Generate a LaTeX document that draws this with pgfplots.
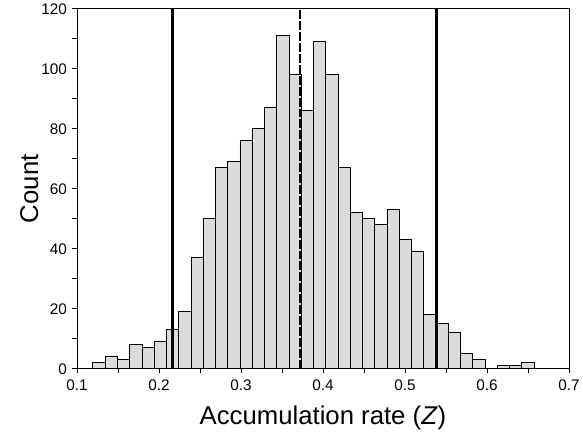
\documentclass[border=0pt]{standalone}
\usepackage{pgfplots}
\pgfplotsset{compat=1.18}
\usetikzlibrary{calc}
\usepackage{fontspec}
\setmainfont{Liberation Sans}

% bin left edges and counts (last row closes the final bin)
\pgfplotstableread{
x       n
0.1193  2
0.13424 4
0.14918 3
0.16412 8
0.17906 7
0.19400 9
0.20894 13
0.22388 19
0.23882 37
0.25376 50
0.26870 67
0.28364 69
0.29858 76
0.31352 80
0.32846 87
0.34340 111
0.35834 98
0.37328 86
0.38822 109
0.40316 98
0.41810 67
0.43304 52
0.44798 50
0.46292 48
0.47786 53
0.49280 43
0.50774 39
0.52268 18
0.53762 15
0.55256 12
0.56750 5
0.58244 3
0.59738 0
0.61232 1
0.62726 1
0.64220 2
0.65714 0
}\hist

\begin{document}
\begin{tikzpicture}
\begin{axis}[
  scale only axis,
  width=495.5bp, height=362.5bp,
  xmin=0.1, xmax=0.7,
  ymin=0, ymax=120,
  xtick={0.1,0.2,0.3,0.4,0.5,0.6,0.7},
  minor xtick={0.15,0.25,0.35,0.45,0.55,0.65},
  ytick={0,20,40,60,80,100,120},
  minor ytick={10,30,50,70,90,110},
  tick align=outside,
  tick pos=left,
  major tick length=4.5bp,
  minor tick length=4.5bp,
  tick style={black, line width=0.6bp},
  axis line style={line width=0.7bp},
  /pgf/number format/assume math mode=true,
  /pgf/number format/fixed,
  ticklabel style={font=\fontsize{15.5}{15.5}\selectfont},
  xticklabel style={yshift=-3.5bp},
  yticklabel style={xshift=-2bp},
  label style={font=\fontsize{26}{26}\selectfont},
  xlabel={Accumulation rate (\textit{Z})},
  ylabel={Count},
  xlabel style={at={(axis description cs:0.5,0)}, anchor=center, yshift=-49bp},
  ylabel style={at={(axis description cs:0,0.5)}, anchor=center, yshift=48bp},
]
\addplot[ybar interval, fill=gray!28, draw=black, line width=0.6bp] table[x=x, y=n] {\hist};
\addplot[black, line width=3bp] coordinates {(0.2165,0) (0.2165,120)};
\addplot[black, line width=3bp] coordinates {(0.5380,0) (0.5380,120)};
\addplot[black, line width=1.4bp, dash pattern=on 9bp off 2bp] coordinates {(0.3718,0) (0.3718,120)};
\end{axis}
\path ($(current axis.south west)+(-77.5bp,-66.5bp)$) rectangle ($(current axis.north east)+(10bp,7bp)$);
\end{tikzpicture}
\end{document}
